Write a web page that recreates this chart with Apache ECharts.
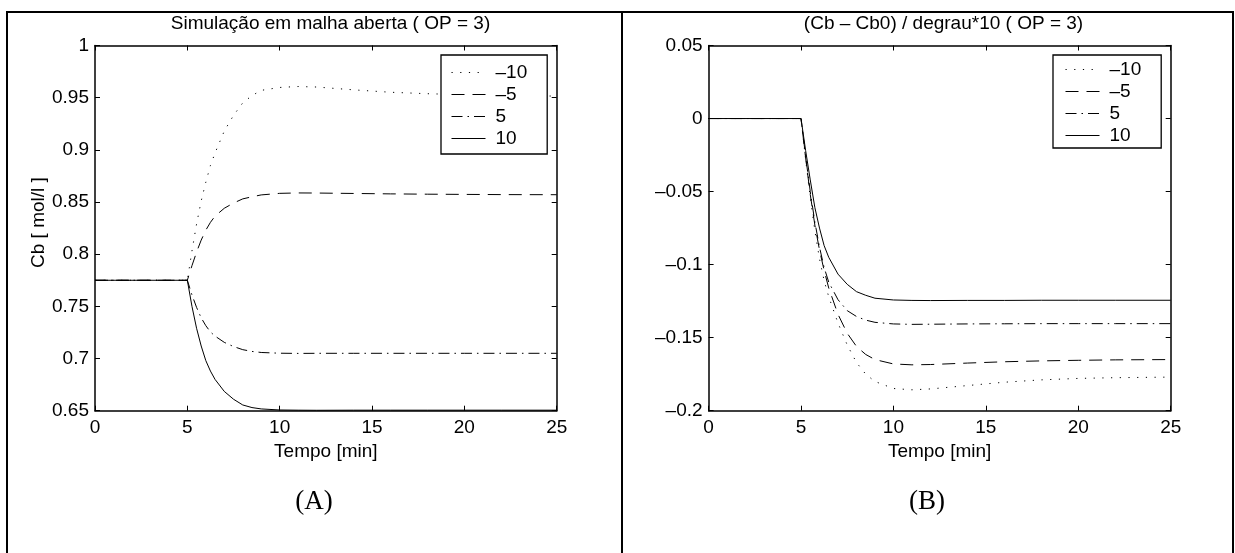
<!DOCTYPE html>
<html><head><meta charset="utf-8">
<script src="https://cdn.jsdelivr.net/npm/echarts@6/dist/echarts.min.js"></script>
<style>html,body{margin:0;padding:0;background:#fff}#c{width:1235px;height:553px}</style>
</head><body><div id="c"></div>
<script>
// ---- data ----
const time = [0, 5, 5.25, 5.5, 5.75, 6, 6.25, 6.5, 7, 7.5, 8, 8.5, 9, 10, 11, 12, 14, 16, 18, 20, 22, 25];
const stepNames = ['\u201310', '\u20135', '5', '10'];

// (A) Cb [mol/l]
const cbStepM10 = [0.775, 0.775, 0.803, 0.829, 0.851, 0.869, 0.885, 0.897, 0.918, 0.933, 0.945, 0.952, 0.957, 0.9598, 0.9607, 0.9602, 0.9575, 0.9552, 0.9538, 0.9528, 0.9521, 0.9515];
const cbStepM5  = [0.775, 0.775, 0.789, 0.802, 0.8135, 0.823, 0.8305, 0.8365, 0.844, 0.849, 0.853, 0.855, 0.8568, 0.8583, 0.8587, 0.8586, 0.8582, 0.8578, 0.8575, 0.8573, 0.8571, 0.857];
const cbStepP5  = [0.775, 0.775, 0.761, 0.749, 0.739, 0.7315, 0.7255, 0.7215, 0.7155, 0.7115, 0.7085, 0.7068, 0.7058, 0.7051, 0.7049, 0.705, 0.705, 0.705, 0.705, 0.705, 0.705, 0.705];
const cbStepP10 = [0.775, 0.775, 0.750, 0.729, 0.712, 0.698, 0.688, 0.680, 0.6685, 0.661, 0.6555, 0.653, 0.6517, 0.6507, 0.6505, 0.6504, 0.6505, 0.6505, 0.6505, 0.6505, 0.6505, 0.6505];

// (B) (Cb - Cb0) / degrau*10
const devStepM10 = [0, 0, -0.028, -0.054, -0.077, -0.096, -0.111, -0.122, -0.140, -0.155, -0.167, -0.175, -0.180, -0.1848, -0.1857, -0.1851, -0.1828, -0.1805, -0.1789, -0.1779, -0.1774, -0.1770];
const devStepM5  = [0, 0, -0.027, -0.052, -0.073, -0.090, -0.104, -0.116, -0.134, -0.147, -0.156, -0.1615, -0.165, -0.168, -0.1686, -0.1684, -0.1674, -0.1665, -0.1659, -0.1655, -0.1652, -0.165];
const devStepP5  = [0, 0, -0.026, -0.050, -0.071, -0.088, -0.102, -0.112, -0.124, -0.1315, -0.1355, -0.138, -0.1395, -0.1406, -0.1409, -0.1408, -0.1406, -0.1405, -0.1404, -0.1404, -0.1404, -0.1404];
const devStepP10 = [0, 0, -0.022, -0.042, -0.061, -0.075, -0.087, -0.095, -0.1065, -0.1135, -0.1185, -0.121, -0.123, -0.1242, -0.1245, -0.1246, -0.1245, -0.1245, -0.1244, -0.1244, -0.1244, -0.1244];

const titleA = 'Simula\u00e7\u00e3o em malha aberta ( OP = 3)';
const titleB = '(Cb \u2013 Cb0) / degrau*10 ( OP = 3)';
const xName = 'Tempo [min]';
const yNameA = 'Cb [ mol/l ]';
const panelA = '(A)';
const panelB = '(B)';

// ---- chart ----
const SANS = '"Liberation Sans", Arial, Helvetica, sans-serif';
const SERIF = '"Liberation Serif", "Times New Roman", serif';
const dashTypes = [[1.2, 7.5], [13, 8], [11, 5, 1.5, 5], 'solid'];
const pair = arr => time.map((t, i) => [t, arr[i]]);
const minusFmt = v => String(v).replace('-', '\u2013');

const axisLineStyle = {show: true, onZero: false, lineStyle: {color: '#000', width: 1.5}};
const tickIn = {show: true, inside: true, length: 5, lineStyle: {color: '#000', width: 1}};
const lbl = {color: '#000', fontSize: 19, fontFamily: SANS};

function xAxes(g) {
  return [
    {gridIndex: g, type: 'value', min: 0, max: 25, interval: 5, position: 'bottom',
     axisLine: axisLineStyle, axisTick: tickIn, splitLine: {show: false},
     axisLabel: Object.assign({margin: 8}, lbl),
     name: xName, nameLocation: 'middle', nameGap: 31, nameTextStyle: lbl},
    {gridIndex: g, type: 'value', min: 0, max: 25, interval: 5, position: 'top',
     axisLine: axisLineStyle, axisTick: tickIn, splitLine: {show: false}, axisLabel: {show: false}}
  ];
}
function yAxes(g, min, max, name) {
  const main = {gridIndex: g, type: 'value', min: min, max: max, interval: 0.05, position: 'left',
     axisLine: axisLineStyle, axisTick: tickIn, splitLine: {show: false},
     axisLabel: Object.assign({margin: 6, formatter: minusFmt}, lbl)};
  if (name) {
    Object.assign(main, {name: name, nameLocation: 'middle', nameGap: 47,
      nameTextStyle: Object.assign({padding: [0, 0, 0, 11]}, lbl)});
  }
  return [main,
    {gridIndex: g, type: 'value', min: min, max: max, interval: 0.05, position: 'right',
     axisLine: axisLineStyle, axisTick: tickIn, splitLine: {show: false}, axisLabel: {show: false}}];
}

const leftSets = [cbStepM10, cbStepM5, cbStepP5, cbStepP10];
const rightSets = [devStepM10, devStepM5, devStepP5, devStepP10];
const series = [];
function mk(arr, i, ax) {
  return {
    name: stepNames[i], type: 'line', xAxisIndex: ax, yAxisIndex: ax, data: pair(arr),
    symbol: 'none', showSymbol: false, animation: false, silent: true,
    itemStyle: {color: '#000'},
    lineStyle: {color: '#000', width: 1, type: dashTypes[i]}
  };
}
leftSets.forEach((arr, i) => series.push(mk(arr, i, 0)));
rightSets.forEach((arr, i) => series.push(mk(arr, i, 2)));

function legend(left, top, pad) {
  return {
    orient: 'vertical', left: left, top: top, data: stepNames, selectedMode: false,
    itemWidth: 34, itemHeight: 12, itemGap: 3, padding: pad,
    backgroundColor: '#fff', borderColor: '#000', borderWidth: 1.3, borderRadius: 0,
    itemStyle: {color: '#000', opacity: 0, borderWidth: 0},
    lineStyle: {color: '#000', width: 1, opacity: 1},
    textStyle: Object.assign({padding: [0, 0, 0, 5]}, lbl)
  };
}

const chart = echarts.init(document.getElementById('c'), null, {renderer: 'canvas'});
chart.setOption({
  animation: false,
  backgroundColor: '#fff',
  grid: [
    {left: 95, top: 45.5, width: 461.7, height: 365.2},
    {left: 708.6, top: 45.5, width: 462.1, height: 365.2}
  ],
  xAxis: xAxes(0).concat(xAxes(1)),
  yAxis: yAxes(0, 0.65, 1, yNameA).concat(yAxes(1, -0.2, 0.05, null)),
  legend: [legend(441, 55, [8, 20, 6, 10]), legend(1053, 55, [5, 20, 3, 12])],
  series: series,
  graphic: [
    {type: 'line', shape: {x1: 6, y1: 12, x2: 1234, y2: 12}, style: {stroke: '#000', lineWidth: 2}},
    {type: 'line', shape: {x1: 7, y1: 11, x2: 7, y2: 553}, style: {stroke: '#000', lineWidth: 2}},
    {type: 'line', shape: {x1: 622, y1: 11, x2: 622, y2: 553}, style: {stroke: '#000', lineWidth: 2}},
    {type: 'line', shape: {x1: 1233, y1: 11, x2: 1233, y2: 553}, style: {stroke: '#000', lineWidth: 2}},
    {type: 'text', x: 330.5, y: 24, style: {text: titleA, fill: '#000', fontSize: 19, fontFamily: SANS, align: 'center', verticalAlign: 'middle'}},
    {type: 'text', x: 943.5, y: 24, style: {text: titleB, fill: '#000', fontSize: 19, fontFamily: SANS, align: 'center', verticalAlign: 'middle'}},
    {type: 'text', x: 314, y: 502, style: {text: panelA, fill: '#000', fontSize: 27, fontFamily: SERIF, align: 'center', verticalAlign: 'middle'}},
    {type: 'text', x: 927, y: 502, style: {text: panelB, fill: '#000', fontSize: 27, fontFamily: SERIF, align: 'center', verticalAlign: 'middle'}}
  ]
});
</script></body></html>
